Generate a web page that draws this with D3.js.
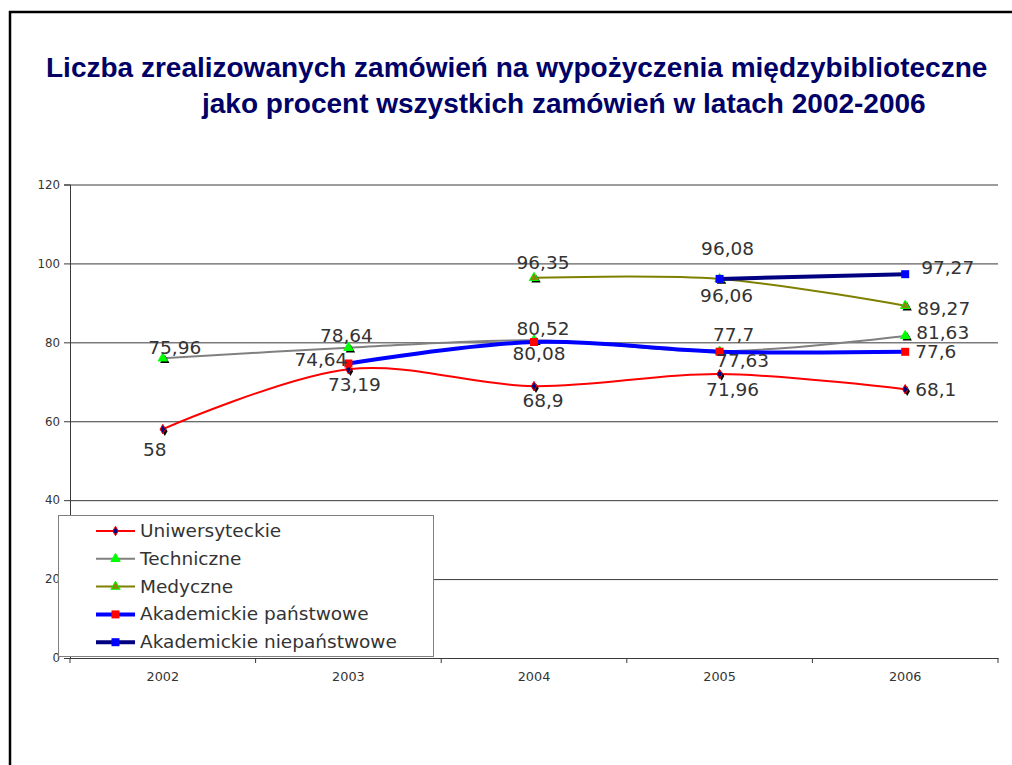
<!DOCTYPE html>
<html>
<head>
<meta charset="utf-8">
<script src="https://cdn.jsdelivr.net/npm/d3@7/dist/d3.min.js"></script>
<style>
  html, body { margin: 0; padding: 0; background: #fff; }
  svg { display: block; }
</style>
</head>
<body>
<svg id="chart" width="1012" height="765"></svg>
<script>
// ---------- data ----------
const years = ['2002', '2003', '2004', '2005', '2006'];
const uniwersyteckie = [58, 73.19, 68.9, 71.96, 68.1];
const techniczne = [75.96, 78.64, 80.52, 77.7, 81.63];
const medyczne = [null, null, 96.35, 96.06, 89.27];
const akademickiePanstwowe = [null, 74.64, 80.08, 77.63, 77.6];
const akademickieNiepanstwowe = [null, null, null, 96.08, 97.27];
const seriesNames = ['Uniwersyteckie', 'Techniczne', 'Medyczne', 'Akademickie państwowe', 'Akademickie niepaństwowe'];
const yTickValues = [0, 20, 40, 60, 80, 100, 120];
const titleLines = [
  'Liczba zrealizowanych zamówień na wypożyczenia międzybiblioteczne',
  'jako procent wszystkich zamówień w latach 2002-2006'
];

// ---------- styles ----------
const seriesStyles = [
  { color: '#ff0000', width: 2, marker: 'diamond', fill: '#000080', stroke: '#ff0000' },
  { color: '#808080', width: 2, marker: 'triangle', fill: '#00ff00', stroke: '#00ff00' },
  { color: '#808000', width: 2, marker: 'triangle', fill: '#8a8a00', stroke: '#00ff00' },
  { color: '#0000ff', width: 4, marker: 'square', fill: '#ff0000', stroke: '#ff0000' },
  { color: '#000080', width: 4, marker: 'square', fill: '#0000ff', stroke: '#0000ff' }
];
// data label placement relative to each point: [anchor, dx, dy(baseline)]
const labelPlacement = [
  [['middle', -8, 27], ['middle', 6, 22], ['middle', 9, 21], ['middle', 13, 22], ['start', 10, 7]],
  [['middle', 12, -4], ['middle', -2, -6], ['middle', 9, -5], ['middle', 14, -10], ['start', 11, 3]],
  [null, null, ['middle', 9, -9], ['middle', 7, 23], ['start', 12, 9]],
  [null, ['end', -1, 3], ['middle', 5, 18], ['middle', 23, 15], ['start', 10, 6]],
  [null, null, null, ['middle', 8, -24], ['start', 16, 0]]
];

const seriesValues = [uniwersyteckie, techniczne, medyczne, akademickiePanstwowe, akademickieNiepanstwowe];

const svg = d3.select('#chart');

// outer frame
svg.append('rect')
  .attr('x', 10).attr('y', 12).attr('width', 1010).attr('height', 765)
  .attr('fill', 'none').attr('stroke', '#000').attr('stroke-width', 2.5);

// title
const title = svg.append('text')
  .attr('font-family', '"Liberation Sans", Arial, sans-serif')
  .attr('font-weight', 'bold')
  .attr('font-size', 28)
  .attr('fill', '#000066');
title.append('tspan').attr('x', 46).attr('y', 77).text(titleLines[0]);
title.append('tspan').attr('x', 202).attr('y', 113).text(titleLines[1]);

const plot = { left: 70, right: 998, top: 184.5, bottom: 658 };
const x = d3.scaleBand().domain(years).range([plot.left, plot.right]);
const cx = d => x(d) + x.bandwidth() / 2;
const y = d3.scaleLinear().domain([0, 120]).range([plot.bottom, plot.top]);

// gridlines
const grid = svg.append('g').attr('transform', `translate(${plot.left},0)`)
  .call(d3.axisLeft(y).tickValues(yTickValues).tickSize(-(plot.right - plot.left)).tickFormat(''));
grid.select('.domain').remove();
grid.selectAll('.tick line').attr('stroke', '#3a3a3a').attr('stroke-width', 1);

// y axis
const yAxis = svg.append('g').attr('transform', `translate(${plot.left},0)`)
  .call(d3.axisLeft(y).tickValues(yTickValues).tickSize(6).tickPadding(4).tickFormat(d3.format('d')));
yAxis.select('.domain').attr('stroke', '#3a3a3a');
yAxis.selectAll('.tick line').attr('stroke', '#3a3a3a');
yAxis.selectAll('.tick text')
  .attr('font-family', '"DejaVu Sans", Verdana, sans-serif')
  .attr('font-size', 11.8).attr('fill', '#333');

// x axis
const xAxis = svg.append('g').attr('transform', `translate(0,${plot.bottom})`)
  .call(d3.axisBottom(x).tickSize(0).tickPadding(14));
xAxis.select('.domain').attr('stroke', '#3a3a3a');
xAxis.selectAll('.tick text')
  .attr('font-family', '"DejaVu Sans", Verdana, sans-serif')
  .attr('font-size', 12.8).attr('fill', '#333');
const boundaries = years.map(d => x(d)).concat([x(years[years.length - 1]) + x.bandwidth()]);
svg.append('g').selectAll('line').data(boundaries).join('line')
  .attr('x1', d => d).attr('x2', d => d)
  .attr('y1', plot.bottom).attr('y2', plot.bottom + 5)
  .attr('stroke', '#3a3a3a');

// marker drawing
function drawMarker(g, type, px, py, st, shadow) {
  const sym = {
    diamond: d3.symbol(d3.symbolDiamond, 26),
    triangle: d3.symbol(d3.symbolTriangle, 38),
    square: d3.symbol(d3.symbolSquare, 64)
  }[type];
  if (shadow) {
    g.append('path').attr('d', sym())
      .attr('transform', `translate(${px + 2},${py + 2})`)
      .attr('fill', '#000');
  }
  g.append('path').attr('d', sym())
    .attr('transform', `translate(${px},${py})`)
    .attr('fill', st.fill).attr('stroke', st.stroke).attr('stroke-width', type === 'square' ? 0 : 1);
}

const line = d3.line()
  .defined(d => d.v !== null)
  .x(d => cx(d.year))
  .y(d => y(d.v))
  .curve(d3.curveCatmullRom.alpha(0.5));

const seriesG = svg.append('g');
seriesValues.forEach((vals, i) => {
  const st = seriesStyles[i];
  const pts = years.map((yr, j) => ({ year: yr, v: vals[j] }));
  const g = seriesG.append('g');
  g.append('path').datum(pts.filter(p => p.v !== null))
    .attr('d', line)
    .attr('fill', 'none').attr('stroke', st.color).attr('stroke-width', st.width)
    .attr('stroke-linejoin', 'round');
  pts.filter(p => p.v !== null).forEach(p => {
    drawMarker(g, st.marker, cx(p.year), y(p.v), st, st.marker !== 'square');
  });
});

// data labels
const labelsG = svg.append('g')
  .attr('font-family', '"DejaVu Sans", Verdana, sans-serif')
  .attr('font-size', 18.5).attr('fill', '#333');
seriesValues.forEach((vals, i) => {
  vals.forEach((v, j) => {
    if (v === null) return;
    const pl = labelPlacement[i][j];
    labelsG.append('text')
      .attr('x', cx(years[j]) + pl[1])
      .attr('y', y(v) + pl[2])
      .attr('text-anchor', pl[0])
      .text(String(v).replace('.', ','));
  });
});

// legend
const legend = svg.append('g');
legend.append('rect')
  .attr('x', 58.5).attr('y', 515.5).attr('width', 375).attr('height', 141)
  .attr('fill', '#fff').attr('stroke', '#808080').attr('stroke-width', 1);
seriesNames.forEach((name, i) => {
  const st = seriesStyles[i];
  const ly = 531 + i * 27.8;
  legend.append('line')
    .attr('x1', 96).attr('x2', 135).attr('y1', ly).attr('y2', ly)
    .attr('stroke', st.color).attr('stroke-width', st.width);
  drawMarker(legend, st.marker, 115.5, ly, st, false);
  legend.append('text')
    .attr('x', 140).attr('y', ly + 6)
    .attr('font-family', '"DejaVu Sans", Verdana, sans-serif')
    .attr('font-size', 18.5).attr('fill', '#333')
    .text(name);
});
</script>
</body>
</html>
